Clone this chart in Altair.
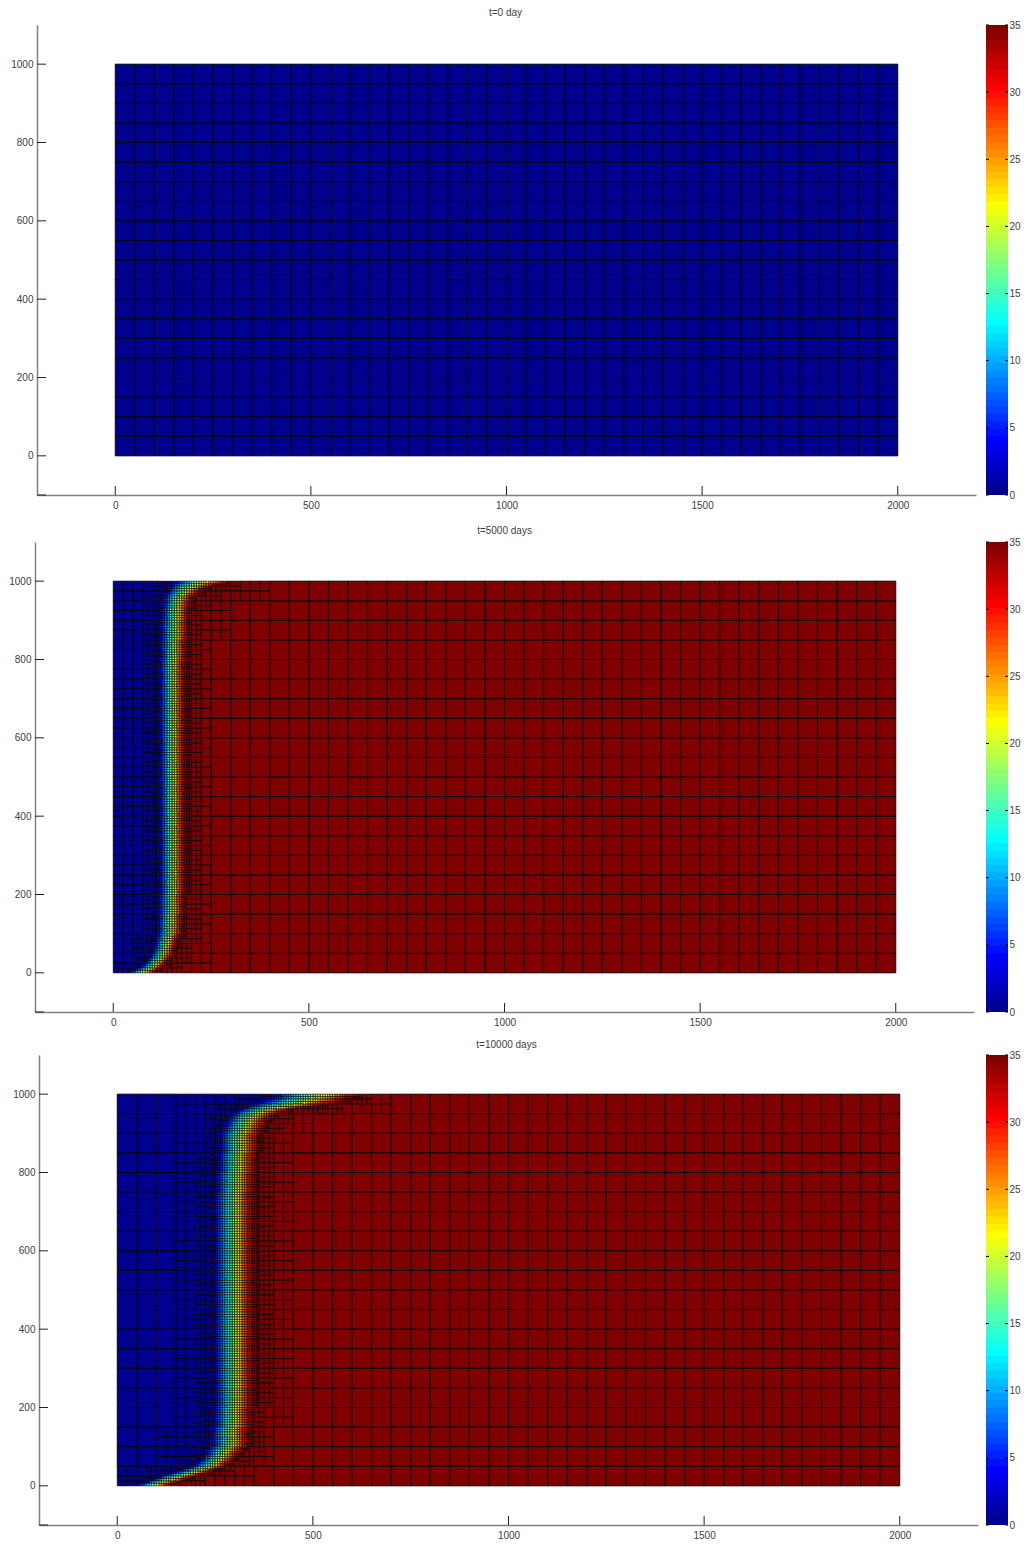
import bisect
import altair as alt
import pandas as pd

alt.data_transformers.disable_max_rows()

TITLES = ["t=0 day", "t=5000 days", "t=10000 days"]
X_LABELS = [0, 500, 1000, 1500, 2000]
Y_LABELS = [0, 200, 400, 600, 800, 1000]
Y_TICKS = [-100, 0, 200, 400, 600, 800, 1000]
BAR_LABELS = [0, 5, 10, 15, 20, 25, 30, 35]

# Front readings: upper edge of each y band, x where T leaves 0, x where T reaches 35
P2_TOP = [6.25, 12.5, 18.75, 25, 31.25, 37.5, 43.75, 50, 56.25, 62.5, 68.75, 75, 81.25, 87.5, 93.75, 100,
          150, 200, 800, 850, 900, 931.25, 937.5, 943.75, 950, 956.25, 962.5, 968.75, 975, 981.25, 987.5, 993.75, 1000]
P2_LO = [43, 55, 66, 74, 80, 85, 89, 93, 96, 99, 101, 102, 103, 105, 106, 107,
         109, 112, 114, 115, 116, 118, 120, 120, 121, 122, 124, 127, 130, 133, 135, 137, 145]
P2_HI = [107, 120, 128, 134, 140, 145, 149, 153, 156, 158, 160, 163, 164, 167, 170, 173,
         178, 181, 184, 188, 193, 195, 197, 198, 200, 202, 205, 212, 222, 232, 245, 265, 295]

P3_TOP = [6.25, 12.5, 18.75, 25, 31.25, 37.5, 43.75, 50, 56.25, 62.5, 68.75, 75, 81.25, 87.5, 93.75, 100,
          150, 200, 250, 750, 800, 850, 900, 906.25, 912.5, 918.75, 925, 931.25, 937.5, 943.75, 950, 956.25,
          962.5, 968.75, 975, 981.25, 987.5, 993.75, 1000]
P3_LO = [50, 68, 85, 98, 120, 140, 158, 175, 190, 198, 206, 210, 215, 218, 222, 226,
         234, 240, 242, 242, 245, 250, 255, 259, 261, 263, 266, 269, 272, 276, 281, 289,
         298, 309, 323, 342, 357, 372, 383]
P3_HI = [135, 155, 178, 194, 215, 236, 252, 270, 284, 291, 299, 306, 312, 316, 322, 327,
         337, 345, 349, 350, 352, 356, 362, 370, 373, 377, 380, 384, 389, 396, 404, 420,
         443, 480, 528, 560, 587, 605, 620]

# Refinement reach around the front for each cell size: (cold side, hot side)
MARGINS = {50: (90, 60), 25: (30, 30), 12.5: (4, 4)}
LINE_WIDTH = {50: 0.9, 25: 0.8, 12.5: 0.7, 6.25: 0.6}
FONT = "Liberation Sans"
TEXT = "#404040"
PLOT_W = 939
PLOT_H = 470
ROW_PAD = [2, 0, 4]
BAR_GAPS = [9, 11, 7]
X_EXTENTS = [21, 18, 16]
TITLE_OFFSETS = [7, 6, 5]


def jet(n=64):
    out = []
    for i in range(n):
        v = (i + 1) / n
        r = min(max(min(4 * v - 1.5, 4.5 - 4 * v), 0), 1)
        g = min(max(min(4 * v - 0.5, 3.5 - 4 * v), 0), 1)
        b = min(max(min(4 * v + 0.5, 2.5 - 4 * v), 0), 1)
        out.append("#%02x%02x%02x" % (round(r * 255), round(g * 255), round(b * 255)))
    return out


JET = jet()
COLOR_SCALE = alt.Scale(type="quantize", domain=[0, 35], range=JET)


def band_index(tops, y):
    return min(bisect.bisect_left(tops, y), len(tops) - 1)


def build_cells(tops, lo, hi):
    rows = []

    def value(cx, cy):
        if tops is None:
            return 0.0
        i = band_index(tops, cy)
        return 35.0 * min(max((cx - lo[i]) / (hi[i] - lo[i]), 0.0), 1.0)

    def split(x0, y0, size):
        if tops is not None and size in MARGINS:
            a = band_index(tops, y0 + 0.01)
            b = band_index(tops, y0 + size - 0.01)
            lmin = min(lo[a:b + 1])
            hmax = max(hi[a:b + 1])
            cold, hot = MARGINS[size]
            if x0 + size > lmin - cold and x0 < hmax + hot:
                h = size / 2
                for dx in (0, h):
                    for dy in (0, h):
                        split(x0 + dx, y0 + dy, h)
                return
        rows.append({"x0": x0, "x1": x0 + size, "y0": y0, "y1": y0 + size,
                     "t": value(x0 + size / 2, y0 + size / 2), "w": LINE_WIDTH[size]})

    for xs in range(0, 2000, 50):
        for ys in range(0, 1000, 50):
            split(float(xs), float(ys), 50)
    return pd.DataFrame(rows).sort_values("w", ascending=True)


def panel(title, cells, pad, x_extent, title_offset):
    x_scale = alt.Scale(domain=[-200, 2200], range=[pad, PLOT_W + pad], nice=False, zero=False)
    y_scale = alt.Scale(domain=[-100, 1100], nice=False, zero=False)
    x_axis = alt.Axis(values=X_LABELS, title=None, grid=False, ticks=False, labelFont=FONT, labelFontSize=10,
                      labelColor=TEXT, domainColor="#808080", domainWidth=1.5, labelPadding=5, labelFlush=False,
                      format="d", minExtent=x_extent)
    y_axis = alt.Axis(values=Y_LABELS, title=None, grid=False, ticks=False, labelFont=FONT, labelFontSize=10,
                      labelColor=TEXT, domainColor="#808080", domainWidth=1.5, labelPadding=4, minExtent=26,
                      format="d", offset=-pad)
    rects = alt.Chart(cells).mark_rect(stroke="#000000").encode(
        x=alt.X("x0:Q", scale=x_scale, axis=x_axis),
        x2="x1:Q",
        y=alt.Y("y0:Q", scale=y_scale, axis=y_axis),
        y2="y1:Q",
        color=alt.Color("t:Q", scale=COLOR_SCALE, legend=None),
        strokeWidth=alt.StrokeWidth("w:Q", scale=None, legend=None),
        order=alt.Order("w:Q"),
    )
    yt = alt.Chart(pd.DataFrame({"v": Y_TICKS})).mark_rule(color="#222222", strokeWidth=1).encode(
        y=alt.Y("v:Q", scale=y_scale, axis=y_axis), x=alt.value(pad), x2=alt.value(pad + 9))
    xt = alt.Chart(pd.DataFrame({"v": X_LABELS})).mark_rule(color="#222222", strokeWidth=1).encode(
        x=alt.X("v:Q", scale=x_scale, axis=x_axis), y=alt.value(PLOT_H - 9), y2=alt.value(PLOT_H))
    return alt.layer(rects, yt, xt).properties(
        width=PLOT_W + pad, height=PLOT_H,
        title=alt.TitleParams(title, font=FONT, fontSize=10, fontWeight="normal", color=TEXT, offset=title_offset),
    )


def colorbar():
    n = len(JET)
    step = 35 / n
    bands = pd.DataFrame({"a": [i * step for i in range(n)],
                          "b": [min((i + 1.5) * step, 35) for i in range(n)],
                          "t": [(i + 0.5) * step for i in range(n)]})
    y_scale = alt.Scale(domain=[0, 35], nice=False, zero=False)
    y_axis = alt.Axis(orient="right", values=BAR_LABELS, title=None, grid=False, ticks=False, domain=False,
                      labelFont=FONT, labelFontSize=10, labelColor=TEXT, labelPadding=1, minExtent=1)
    rects = alt.Chart(bands).mark_rect().encode(
        x=alt.value(0), x2=alt.value(22),
        y=alt.Y("a:Q", scale=y_scale, axis=y_axis),
        y2="b:Q",
        color=alt.Color("t:Q", scale=COLOR_SCALE, legend=None),
    )
    ticks = pd.DataFrame({"v": BAR_LABELS})
    left = alt.Chart(ticks).mark_rule(color="#000000").encode(
        y=alt.Y("v:Q", scale=y_scale, axis=y_axis), x=alt.value(0), x2=alt.value(3))
    right = alt.Chart(ticks).mark_rule(color="#000000").encode(
        y=alt.Y("v:Q", scale=y_scale, axis=y_axis), x=alt.value(19), x2=alt.value(22))
    return alt.layer(rects, left, right).properties(width=22, height=PLOT_H)


rows = []
frames = [build_cells(None, None, None), build_cells(P2_TOP, P2_LO, P2_HI), build_cells(P3_TOP, P3_LO, P3_HI)]
for title, cells, pad, gap, x_ext, t_off in zip(TITLES, frames, ROW_PAD, BAR_GAPS, X_EXTENTS, TITLE_OFFSETS):
    rows.append(alt.hconcat(panel(title, cells, pad, x_ext, t_off), colorbar(), spacing=gap))

chart = alt.concat(*rows, columns=1, spacing=10, align="none").properties(padding=0).configure_view(stroke=None)
chart.save("out.html", embed_options={"renderer": "svg", "actions": False})
